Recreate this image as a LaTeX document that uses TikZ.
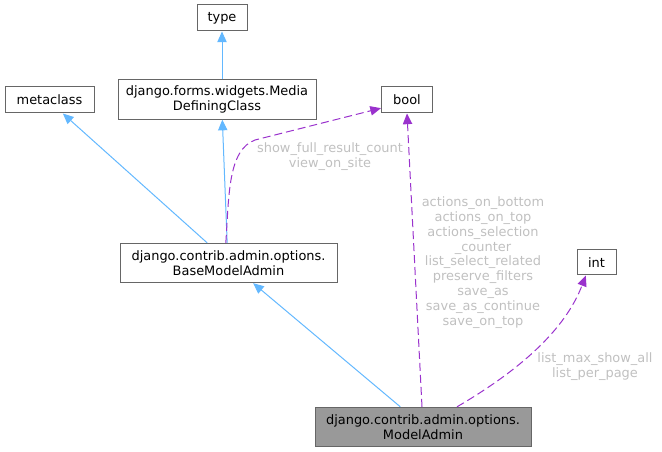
\documentclass[tikz,border=0pt]{standalone}
\usepackage{fontspec}
\setmainfont{DejaVu Sans}
\usetikzlibrary{arrows.meta}

\definecolor{inheritblue}{HTML}{63B8FF}
\definecolor{usagepurple}{HTML}{9A32CD}
\definecolor{boxgray}{HTML}{666666}
\definecolor{labelgray}{HTML}{C0C0C0}
\definecolor{currentgray}{HTML}{999999}

\tikzset{
  cls/.style={draw=boxgray, fill=white, line width=0.75pt, align=center, inner sep=0pt,
    minimum height=19.5pt, font=\fontsize{9.7}{11.2}\selectfont},
  twoline/.style={minimum height=29.5pt},
  current/.style={fill=currentgray},
  inherit/.style={draw=inheritblue, line width=0.75pt, -{Triangle[length=8pt,width=7pt,fill=inheritblue]}},
  usage/.style={draw=usagepurple, line width=0.75pt, dash pattern=on 6pt off 3pt,
    -{Triangle[length=8pt,width=7pt,fill=usagepurple]}},
  memberlabel/.style={text=labelgray, align=center, inner sep=0pt, font=\fontsize{9.7}{11.1}\selectfont}
}

\begin{document}
\begin{tikzpicture}[x=0.75pt, y=-0.75pt]
  \useasboundingbox (0,0) rectangle (662,452);

  \node[cls, minimum width=37.5pt] (type) at (222,18) {type};
  \node[cls, twoline, minimum width=148.5pt] (media) at (217,99.5) {django.forms.widgets.Media\\DefiningClass};
  \node[cls, minimum width=66.75pt] (metaclass) at (49.5,100) {metaclass};
  \node[cls, minimum width=38.25pt] (bool) at (407,100) {bool};
  \node[cls, twoline, minimum width=162.75pt] (base) at (228.5,263) {django.contrib.admin.options.\\BaseModelAdmin};
  \node[cls, minimum width=29.25pt, minimum height=18.75pt] (int) at (596.5,262.5) {int};
  \node[cls, twoline, current, minimum width=162pt] (model) at (423,427) {django.contrib.admin.options.\\ModelAdmin};

  \node[memberlabel] (basebool) at (330,157) {show\_full\_result\_count\\view\_on\_site};
  \node[memberlabel] (modelbool) at (483,262.5) {actions\_on\_bottom\\actions\_on\_top\\actions\_selection\\\_counter\\list\_select\_related\\preserve\_filters\\save\_as\\save\_as\_continue\\save\_on\_top};
  \node[memberlabel] (modelint) at (595,367) {list\_max\_show\_all\\list\_per\_page};

  \draw[inherit] ([xshift=3.75pt]media.north) -- (type.south);
  \draw[inherit] ([xshift=-16pt]base.north) -- ([xshift=10pt]metaclass.south);
  \draw[inherit] ([xshift=-1pt]base.north) -- ([xshift=4pt]media.south);
  \draw[inherit] ([xshift=-17pt]model.north) -- ([xshift=18.5pt]base.south);

  \draw[usage] ([xshift=-2pt]base.north) .. controls (229,195) and (228,150) .. (255,140) -- ([yshift=4pt]bool.south west);
  \draw[usage] ([xshift=-0.75pt]model.north) -- (bool.south);
  \draw[usage] ([xshift=25.5pt]model.north) .. controls (520,370) and (565,330) .. ([xshift=-8pt]int.south);
\end{tikzpicture}
\end{document}
